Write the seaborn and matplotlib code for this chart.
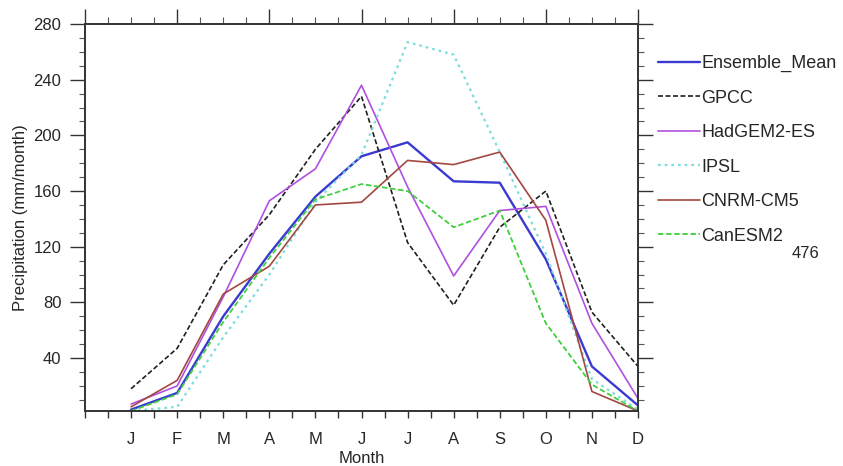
import numpy as np
import pandas as pd
import seaborn as sns
import matplotlib
matplotlib.use('Agg')
import matplotlib.pyplot as plt
from matplotlib.ticker import MultipleLocator, FixedLocator

sns.set_theme(style='white')
plt.rcParams['font.family'] = ['Liberation Sans', 'DejaVu Sans']

# monthly precipitation (mm/month)
months = ['J', 'F', 'M', 'A', 'M', 'J', 'J', 'A', 'S', 'O', 'N', 'D']
month_num = list(range(1, 13))

ensemble_mean = [3, 15, 70, 115, 156, 185, 195, 167, 166, 111, 34, 6]
gpcc = [18, 47, 107, 143, 190, 228, 123, 78, 134, 160, 73, 34]
hadgem2_es = [7, 20, 84, 153, 176, 236, 163, 99, 146, 149, 65, 11]
ipsl = [2, 5, 55, 100, 152, 186, 267, 258, 188, 115, 25, 3]
cnrm_cm5 = [5, 24, 86, 106, 150, 152, 182, 179, 188, 139, 16, 2]
canesm2 = [2, 14, 66, 112, 154, 165, 160, 134, 146, 65, 21, 2]

names = ['Ensemble_Mean', 'GPCC', 'HadGEM2-ES', 'IPSL', 'CNRM-CM5', 'CanESM2']
series = [ensemble_mean, gpcc, hadgem2_es, ipsl, cnrm_cm5, canesm2]

colors = {'Ensemble_Mean': '#3a3ad2', 'GPCC': '#202020', 'HadGEM2-ES': '#b050e0',
          'IPSL': '#7ddcdc', 'CNRM-CM5': '#a24840', 'CanESM2': '#3fcf3f'}
dashes = {'Ensemble_Mean': '', 'GPCC': (3, 1.5), 'HadGEM2-ES': '',
          'IPSL': (1.2, 1.8), 'CNRM-CM5': '', 'CanESM2': (3, 1.5)}
widths = {'Ensemble_Mean': 1.7, 'GPCC': 1.2, 'HadGEM2-ES': 1.2,
          'IPSL': 1.6, 'CNRM-CM5': 1.2, 'CanESM2': 1.3}

df = pd.DataFrame({
    'month': np.tile(month_num, len(names)),
    'precip': np.concatenate(series),
    'model': np.repeat(names, 12),
})

fig = plt.figure(figsize=(8.43, 4.66), dpi=100)
ax = fig.add_axes([85/843, 1 - 411/466, (638 - 85)/843, (411 - 24)/466])

for name in names:
    sub = df[df['model'] == name]
    sns.lineplot(data=sub, x='month', y='precip', ax=ax, color=colors[name],
                 linewidth=widths[name], label=name, legend=False)
    ln = ax.lines[-1]
    if dashes[name]:
        ln.set_dashes(dashes[name])

ax.set_xlim(0, 12)
ax.set_ylim(2, 280)

# bottom axis: month letters, ticks every half month
ax.xaxis.set_major_locator(FixedLocator(month_num))
ax.xaxis.set_minor_locator(MultipleLocator(0.5))
ax.set_xticks(month_num)
ax.set_xticklabels(months)
ax.yaxis.set_major_locator(MultipleLocator(40))
ax.yaxis.set_minor_locator(MultipleLocator(10))
ax.set_yticks([40, 80, 120, 160, 200, 240, 280])

ax.tick_params(axis='x', which='both', direction='out', length=5, width=1,
               color='#333333', bottom=True, top=False, labelsize=12, pad=10)
ax.tick_params(axis='y', which='major', direction='out', length=11, width=1,
               color='#333333', left=True, right=True, labelsize=12, pad=6)
ax.tick_params(axis='y', which='minor', direction='out', length=4, width=0.8,
               color='#555555', left=True, right=True)

# top axis has its own tick spacing
top = ax.twiny()
top.set_xlim(0, 12)
top.xaxis.set_major_locator(MultipleLocator(2))
top.xaxis.set_minor_locator(MultipleLocator(0.5))
top.tick_params(axis='x', which='major', direction='out', length=11, width=1,
                color='#333333', labeltop=False)
top.tick_params(axis='x', which='minor', direction='out', length=5, width=0.8,
                color='#555555')

for a in (ax, top):
    for s in a.spines.values():
        s.set_color('#333333')
        s.set_linewidth(1.2)

ax.set_xlabel('Month', fontsize=12, labelpad=3)
ax.set_ylabel('Precipitation (mm/month)', fontsize=12, labelpad=4)

handles, labels = ax.get_legend_handles_labels()
fig.legend(handles, labels, loc='upper left', bbox_to_anchor=(658/843, 1 - 55/466),
           frameon=False, fontsize=13, handlelength=2.3, handletextpad=0.1,
           labelspacing=0.97, borderpad=0, borderaxespad=0)

fig.text(806/843, 1 - 253/466, '476', fontsize=12, ha='center', va='center')

fig.savefig('out.png', dpi=100)
